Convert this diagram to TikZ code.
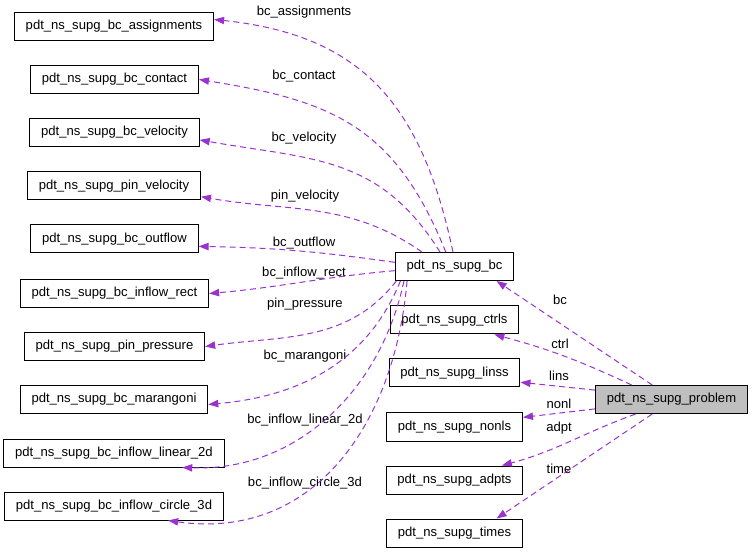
\documentclass[tikz,border=0pt]{standalone}
\usepackage{fontspec}
\setmainfont{Liberation Sans}
\usetikzlibrary{arrows.meta}
\pgfdeclarelayer{nodelayer}
\pgfdeclarelayer{edgelayer}
\pgfsetlayers{nodelayer,edgelayer,main}
\definecolor{edgepurple}{HTML}{9A32CD}
\definecolor{probgray}{HTML}{BFBFBF}
\tikzset{
  box/.style={draw, rectangle, line width=0.75pt, minimum height=21pt,
    inner xsep=8.5pt, inner ysep=0pt, font=\fontsize{9.8}{11}\selectfont},
  lbl/.style={inner sep=0pt, font=\fontsize{9.8}{11}\selectfont},
  member/.style={draw=edgepurple, line width=0.75pt, dash pattern=on 4.5pt off 3pt,
    -{Triangle[length=7.5pt,width=5.5pt]}}
}

\begin{document}
\begin{tikzpicture}[x=0.75pt, y=0.75pt]
  \useasboundingbox (0, 0) rectangle (752, 553);
  \begin{pgfonlayer}{nodelayer}
    \node [box, fill=probgray] (0) at (671.5, 153.5) {pdt\_ns\_supg\_problem};
    \node [box] (1) at (454.5, 286.5) {pdt\_ns\_supg\_bc};
    \node [box] (2) at (454.5, 233) {pdt\_ns\_supg\_ctrls};
    \node [box] (3) at (454.5, 180) {pdt\_ns\_supg\_linss};
    \node [box] (4) at (454.5, 126) {pdt\_ns\_supg\_nonls};
    \node [box] (5) at (454.5, 73) {pdt\_ns\_supg\_adpts};
    \node [box] (6) at (454.5, 20) {pdt\_ns\_supg\_times};
    \node [box] (7) at (114, 526.5) {pdt\_ns\_supg\_bc\_assignments};
    \node [box] (8) at (114.5, 473.5) {pdt\_ns\_supg\_bc\_contact};
    \node [box] (9) at (114.5, 420.5) {pdt\_ns\_supg\_bc\_velocity};
    \node [box] (10) at (114, 367) {pdt\_ns\_supg\_pin\_velocity};
    \node [box] (11) at (114.5, 314) {pdt\_ns\_supg\_bc\_outflow};
    \node [box] (12) at (114.5, 259.5) {pdt\_ns\_supg\_bc\_inflow\_rect};
    \node [box] (13) at (114.5, 206.5) {pdt\_ns\_supg\_pin\_pressure};
    \node [box] (14) at (114, 153.5) {pdt\_ns\_supg\_bc\_marangoni};
    \node [box] (15) at (114, 100) {pdt\_ns\_supg\_bc\_inflow\_linear\_2d};
    \node [box] (16) at (114, 47) {pdt\_ns\_supg\_bc\_inflow\_circle\_3d};
    \node [lbl] (17) at (304, 541) {bc\_assignments};
    \node [lbl] (18) at (304, 477) {bc\_contact};
    \node [lbl] (19) at (304, 415) {bc\_velocity};
    \node [lbl] (20) at (305, 357) {pin\_velocity};
    \node [lbl] (21) at (304, 310) {bc\_outflow};
    \node [lbl] (22) at (304, 280) {bc\_inflow\_rect};
    \node [lbl] (23) at (305, 249) {pin\_pressure};
    \node [lbl] (24) at (305, 197) {bc\_marangoni};
    \node [lbl] (25) at (305, 133) {bc\_inflow\_linear\_2d};
    \node [lbl] (26) at (305, 70) {bc\_inflow\_circle\_3d};
    \node [lbl] (27) at (560, 253) {bc};
    \node [lbl] (28) at (560, 209) {ctrl};
    \node [lbl] (29) at (559, 177) {lins};
    \node [lbl] (30) at (559, 149) {nonl};
    \node [lbl] (31) at (559, 125) {adpt};
    \node [lbl] (32) at (559, 84) {time};
  \end{pgfonlayer}
  \begin{pgfonlayer}{edgelayer}
    \draw [member] (1.96) to [out=102, in=-6, looseness=1.15] (7.4);
    \draw [member] (1.121) to [out=112, in=-9, looseness=1.15] (8.east);
    \draw [member] (1.135) to [out=122, in=-10, looseness=1.1] (9.-5);
    \draw [member] (1.156) to [out=145, in=-10] (10.-7);
    \draw [member] (1.176) to [out=172, in=-1] (11.-5);
    \draw [member] (1.184) to [out=185, in=5] (12.east);
    \draw [member] (1.194) to [out=-128, in=8] (13.east);
    \draw [member] (1.195) to [out=-112, in=5] (14.-3);
    \draw [member] (1.196) to [out=-102, in=-2] (15.-12);
    \draw [member] (1.197) to [out=-95, in=-8, looseness=1.1] (16.-15);
    \draw [member] (0.143) to (1.-19);
    \draw [member] (0.160) to [out=155, in=-15] (2.-20);
    \draw [member] (0.173) to (3.-8);
    \draw [member] (0.187) to (4.8);
    \draw [member] (0.202) to [out=200, in=15] (5.17);
    \draw [member] (0.217) to (6.19);
  \end{pgfonlayer}
\end{tikzpicture}
\end{document}
